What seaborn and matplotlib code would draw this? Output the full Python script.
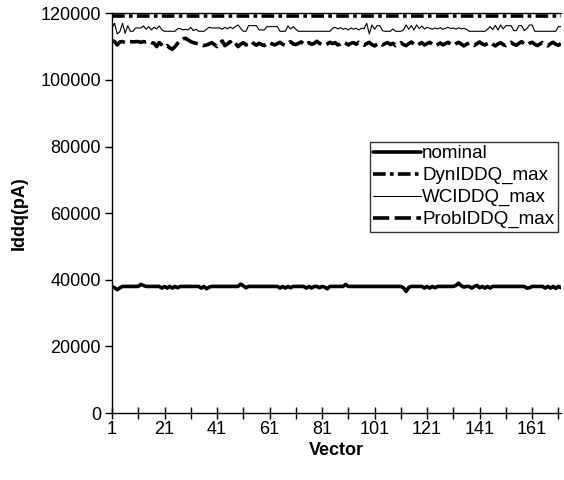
import matplotlib
matplotlib.use("Agg")
import matplotlib.pyplot as plt
import seaborn as sns
import pandas as pd

vectors = list(range(1, 173))

nominal = [
    38000, 37600, 37000, 37600, 38000, 38000, 38000, 38000, 38000, 38000,
    38000, 38600, 38300, 38000, 38000, 38000, 38000, 38000, 38000, 37500,
    38000, 37500, 38000, 37500, 38000, 37600, 38000, 38000, 38000, 38000,
    38000, 38000, 38000, 38000, 37500, 38000, 37300, 37800, 38000, 38000,
    38000, 38000, 38000, 38000, 38000, 38000, 38000, 38000, 38000, 38700,
    38200, 37600, 38000, 38000, 38000, 38000, 38000, 38000, 38000, 38000,
    38000, 38000, 38000, 38000, 37500, 38000, 37500, 38000, 37600, 38000,
    38000, 38000, 38000, 38000, 37500, 38000, 37500, 38000, 38000, 37600,
    38000, 37800, 37300, 38000, 38000, 38000, 38000, 38000, 38000, 38600,
    38000, 38000, 38000, 38000, 38000, 38000, 38000, 38000, 38000, 38000,
    38000, 38000, 38000, 38000, 38000, 38000, 38000, 38000, 38000, 38000,
    38000, 37600, 36500, 37700, 38000, 38000, 38000, 38000, 38000, 37500,
    38000, 37500, 38000, 37600, 38000, 38000, 38000, 38000, 38000, 38000,
    38000, 38300, 39000, 38200, 37800, 38000, 38000, 37500, 38000, 38300,
    37600, 38000, 37500, 38000, 37500, 38000, 38000, 38000, 38000, 38000,
    38000, 38000, 38000, 38000, 38000, 38000, 38000, 38000, 37500, 37600,
    38000, 38000, 38000, 38000, 38000, 37500, 38000, 37500, 38000, 37400,
    38000, 37600,
]

dyn_max = [
    119300, 119300, 119300, 119300, 119300, 119300, 119300, 119300, 119300, 119300,
    119300, 119300, 119300, 119300, 119300, 119300, 119300, 119300, 119300, 119300,
    119300, 119300, 119300, 119300, 119300, 119300, 119300, 119300, 119300, 119300,
    119300, 119300, 119300, 119300, 119300, 119300, 119300, 119300, 119300, 119300,
    119300, 119300, 119300, 119300, 119300, 119300, 119300, 119300, 119300, 119300,
    119300, 119300, 119300, 119300, 119300, 119300, 119300, 119300, 119300, 119300,
    119300, 119300, 119300, 119300, 119300, 119300, 119300, 119300, 119300, 119300,
    119300, 119300, 119300, 119300, 119300, 119300, 119300, 119300, 119300, 119300,
    119300, 119300, 119300, 119300, 119300, 119300, 119300, 119300, 119300, 119300,
    119300, 119300, 119300, 119300, 119300, 119300, 119300, 119300, 119300, 119300,
    119300, 119300, 119300, 119300, 119300, 119300, 119300, 119300, 119300, 119300,
    119300, 119300, 119300, 119300, 119300, 119300, 119300, 119300, 119300, 119300,
    119300, 119300, 119300, 119300, 119300, 119300, 119300, 119300, 119300, 119300,
    119300, 119300, 119300, 119300, 119300, 119300, 119300, 119300, 119300, 119300,
    119300, 119300, 119300, 119300, 119300, 119300, 119300, 119300, 119300, 119300,
    119300, 119300, 119300, 119300, 119300, 119300, 119300, 119300, 119300, 119300,
    119300, 119300, 119300, 119300, 119300, 119300, 119300, 119300, 119300, 119300,
    119300, 119300,
]

wc_max = [
    115500, 117000, 113800, 114500, 117000, 114000, 116300, 114600, 114600, 115600,
    115600, 115600, 116200, 115200, 116000, 115000, 115800, 115300, 116200, 115000,
    114600, 114600, 114600, 114600, 114600, 115400, 115400, 115000, 115200, 115000,
    115800, 114800, 115200, 114600, 114600, 114600, 115200, 115800, 115600, 115600,
    115600, 115600, 115200, 115800, 115300, 115900, 115400, 116000, 116500, 115500,
    114600, 114600, 116300, 116300, 116300, 116300, 115000, 115000, 115000, 116000,
    116000, 116000, 116000, 116000, 114600, 114600, 114600, 116200, 115300, 116000,
    115200, 114600, 114600, 114600, 114600, 114600, 114600, 114600, 114600, 114600,
    114600, 114600, 114600, 114600, 115500, 115800, 115300, 115700, 115200, 115500,
    115000, 115600, 115200, 115500, 115000, 115500, 115400, 117000, 113800, 116500,
    115200, 116300, 116300, 114800, 114600, 114600, 114600, 115300, 114600, 114600,
    114600, 115000, 116500, 115200, 116300, 115000, 116500, 115400, 116200, 115300,
    115800, 115500, 115200, 115600, 115300, 115700, 115200, 115500, 115800, 115400,
    115600, 115200, 115700, 115300, 115500, 115200, 114600, 114600, 114600, 114600,
    114600, 114600, 114600, 115200, 116000, 115100, 116400, 115000, 116500, 115300,
    116300, 116300, 116300, 114800, 114800, 116300, 116300, 114800, 115400, 116500,
    116500, 114600, 114600, 114600, 114600, 114600, 114600, 114600, 114600, 114600,
    116000, 116000,
]

prob_max = [
    111800, 111500, 110500, 111400, 111500, 111200, 111500, 111500, 111400, 111500,
    111500, 111300, 111500, 111400, 111600, 111200, 111000, 110000, 111200, 110500,
    109800, 110300, 109600, 109200, 110000, 111000, 111800, 112300, 112500, 112000,
    111500, 111200, 111000, 110800, 110600, 110300, 110500, 110800, 111200, 110600,
    110000, 111000, 111700, 110300, 110800, 111500, 110500, 111000, 110000, 110700,
    111200, 110500, 110800, 111500, 110900, 110400, 111000, 110600, 110300, 110900,
    111300, 110800, 110500, 110900, 111300, 110700, 110400, 111000, 111500, 110800,
    110600, 111000, 111400, 110900, 110500, 111200, 110700, 111000, 111600, 111000,
    110600, 110400, 110800, 111300, 110900, 111200, 110500, 110800, 111400, 111000,
    110500, 111000, 111200, 110700, 111300, 110800, 110400, 110900, 111300, 110600,
    110200, 110700, 111100, 110500, 110900, 111200, 110600, 111000, 110300, 110800,
    111200, 110600, 110300, 110900, 111400, 110700, 110300, 110800, 111200, 110500,
    110900, 111300, 110700, 110200, 110600, 111100, 110500, 110900, 111300, 110700,
    110400, 110900, 111300, 110800, 110200, 110700, 111100, 110600, 110300, 110900,
    111400, 110800, 110500, 110900, 111300, 110700, 110200, 110800, 111200, 110600,
    110300, 110900, 111300, 110700, 110400, 111000, 111500, 110800, 110500, 111000,
    111300, 110700, 110300, 110800, 111200, 110600, 110200, 110900, 111300, 110700,
    110400, 110900,
]

series_names = ["nominal", "DynIDDQ_max", "WCIDDQ_max", "ProbIDDQ_max"]
x_tick_labels = ["1", "21", "41", "61", "81", "101", "121", "141", "161"]
y_ticks = [0, 20000, 40000, 60000, 80000, 100000, 120000]

sns.set_theme(style="white")
plt.rcParams["font.family"] = ["Liberation Sans", "DejaVu Sans"]

fig = plt.figure(figsize=(5.64, 4.80), dpi=100)
ax = fig.add_axes([112 / 564, 1 - 413 / 480, (561 - 112) / 564, (413 - 13.3) / 480])

styles = {
    "nominal": dict(linewidth=2.6, linestyle="-"),
    "DynIDDQ_max": dict(linewidth=2.6, linestyle=(0, (3.5, 1.2, 1.0, 1.2))),
    "WCIDDQ_max": dict(linewidth=0.8, linestyle="-"),
    "ProbIDDQ_max": dict(linewidth=2.6, linestyle=(0, (4.5, 1.5))),
}
values = {
    "nominal": nominal,
    "DynIDDQ_max": dyn_max,
    "WCIDDQ_max": wc_max,
    "ProbIDDQ_max": prob_max,
}

for name in series_names:
    df = pd.DataFrame({"Vector": vectors, "Iddq": values[name]})
    sns.lineplot(data=df, x="Vector", y="Iddq", ax=ax, color="black",
                 label=name, **styles[name])

ax.set_xlim(1, 172)
ax.set_ylim(0, 120000)
ax.set_yticks(y_ticks)
ax.set_yticklabels([str(v) for v in y_ticks])
tick_pos = list(range(1, 172, 10))
ax.set_xticks(tick_pos)
ax.set_xticklabels([lab if lab in x_tick_labels else "" for lab in map(str, tick_pos)])

for side in ["left", "bottom", "top"]:
    ax.spines[side].set_visible(True)
    ax.spines[side].set_color("black")
    ax.spines[side].set_linewidth(1.0)
ax.spines["right"].set_visible(False)

ax.tick_params(axis="x", direction="inout", length=9, width=1, color="black",
               labelsize=13, pad=1, bottom=True, labelcolor="black")
ax.tick_params(axis="y", direction="out", length=5, width=1, color="black",
               labelsize=13, pad=3, left=True, labelcolor="black")
ax.grid(False)

ax.set_xlabel("Vector", fontsize=13, fontweight="bold", labelpad=3, color="black")
ax.set_ylabel("Iddq(pA)", fontsize=13, fontweight="bold", labelpad=9, color="black")

leg = ax.legend(loc="upper left", bbox_to_anchor=(370 / 564, 1 - 142 / 480),
                bbox_transform=fig.transFigure, frameon=True, fancybox=False,
                shadow=False, fontsize=13.5, handlelength=2.55, handletextpad=0.05,
                labelspacing=0.25, borderpad=0.18, borderaxespad=0)
leg.get_frame().set_edgecolor("black")
leg.get_frame().set_linewidth(1.0)
for t in leg.get_texts():
    t.set_color("black")

fig.savefig("out.png", dpi=100)
